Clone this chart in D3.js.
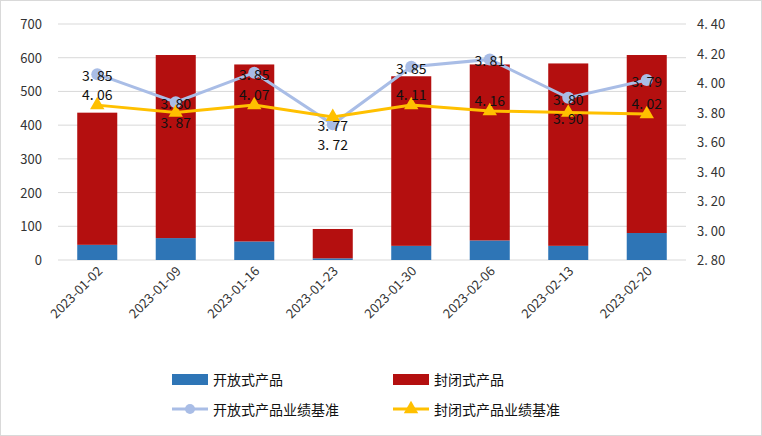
<!DOCTYPE html>
<html><head><meta charset="utf-8">
<script src="https://cdn.jsdelivr.net/npm/d3@7"></script>
<style>body{margin:0;background:#fff}text{font-family:"Noto Sans CJK SC","DejaVu Sans",sans-serif}</style>
</head><body><div id="container"></div>
<script>
let dates = ["2023-01-02","2023-01-09","2023-01-16","2023-01-23","2023-01-30","2023-02-06","2023-02-13","2023-02-20"];
let openAmt = [45, 65, 55, 5, 42, 58, 42, 80];
let closedAmt = [392, 543, 525, 87, 503, 522, 541, 528];
let openRate = [4.06, 3.87, 4.07, 3.72, 4.11, 4.16, 3.90, 4.02];
let closedRate = [3.85, 3.80, 3.85, 3.77, 3.85, 3.81, 3.80, 3.79];
let leftTicks = [0,100,200,300,400,500,600,700];
let rightTicks = [2.8,3.0,3.2,3.4,3.6,3.8,4.0,4.2,4.4];

let w = 762, h = 436;
let svg = d3.select("#container").append("svg").attr("width", w).attr("height", h);
svg.append("rect").attr("x",0.5).attr("y",0.5).attr("width",w-1).attr("height",h-1).attr("fill","none").attr("stroke","#d9d9d9");

let x = d3.scaleBand().domain(dates).range([58, 686]).paddingInner(0.49).paddingOuter(0.245);
let yL = d3.scaleLinear().domain([0,700]).range([260,24]);
let yR = d3.scaleLinear().domain([2.8,4.4]).range([260,24]);

// grid
svg.append("g").selectAll("line").data(leftTicks).enter().append("line")
  .attr("x1",58).attr("x2",686).attr("y1",d=>yL(d)).attr("y2",d=>yL(d))
  .attr("stroke","#d9d9d9");

let fs = "13px";
svg.append("g").selectAll("text").data(leftTicks).enter().append("text")
  .attr("x",42).attr("y",d=>yL(d)+5).attr("text-anchor","end").style("font-size",fs).attr("fill","#333")
  .text(d=>d);
svg.append("g").selectAll("text").data(rightTicks).enter().append("text")
  .attr("x",697).attr("y",d=>yR(d)+5).style("font-size",fs).attr("fill","#333")
  .text(d=>d.toFixed(2).replace(".", ". "));

// bars
let g = svg.append("g");
g.selectAll(".open").data(dates).enter().append("rect")
  .attr("x",d=>x(d)).attr("width",x.bandwidth())
  .attr("y",(d,i)=>yL(openAmt[i])).attr("height",(d,i)=>yL(0)-yL(openAmt[i]))
  .attr("fill","#2e75b6");
g.selectAll(".closed").data(dates).enter().append("rect")
  .attr("x",d=>x(d)).attr("width",x.bandwidth())
  .attr("y",(d,i)=>yL(openAmt[i]+closedAmt[i])).attr("height",(d,i)=>yL(openAmt[i])-yL(openAmt[i]+closedAmt[i]))
  .attr("fill","#b40f0f");

let cx = d => x(d) + x.bandwidth()/2;
// lines
let lineOpen = d3.line().x((d,i)=>cx(dates[i])).y(d=>yR(d));
svg.append("path").datum(openRate).attr("d",lineOpen).attr("fill","none").attr("stroke","#a9bde6").attr("stroke-width",3);
svg.append("path").datum(closedRate).attr("d",lineOpen).attr("fill","none").attr("stroke","#ffc000").attr("stroke-width",3);
svg.append("g").selectAll("circle").data(openRate).enter().append("circle")
  .attr("cx",(d,i)=>cx(dates[i])).attr("cy",d=>yR(d)).attr("r",6).attr("fill","#a9bde6");
let tri = d3.symbol().type(d3.symbolTriangle).size(90);
svg.append("g").selectAll("path").data(closedRate).enter().append("path")
  .attr("d",tri).attr("transform",(d,i)=>"translate("+cx(dates[i])+","+yR(d)+")").attr("fill","#ffc000");

// data labels (as placed in the reference: swapped near the markers)
let lab = svg.append("g").style("font-size","14px").attr("fill","#111").attr("text-anchor","middle");
lab.selectAll(".a").data(closedRate).enter().append("text")
  .attr("x",(d,i)=>cx(dates[i])).attr("y",(d,i)=>yR(openRate[i])+7)
  .text(d=>d.toFixed(2).replace(".", ". "));
lab.selectAll(".b").data(openRate).enter().append("text")
  .attr("x",(d,i)=>cx(dates[i])).attr("y",(d,i)=> openRate[i] > closedRate[i]+0.15 ? yR(closedRate[i])-5 : yR(d)+26)
  .text(d=>d.toFixed(2).replace(".", ". "));

// x labels
svg.append("g").selectAll("text").data(dates).enter().append("text")
  .attr("transform",d=>"translate("+(cx(d)+6)+",272) rotate(-45)")
  .attr("text-anchor","end").style("font-size","13px").attr("fill","#333").text(d=>d);

// legend
let leg = svg.append("g").style("font-size","14px").attr("fill","#111");
leg.append("rect").attr("x",172).attr("y",374).attr("width",36).attr("height",11).attr("fill","#2e75b6");
leg.append("text").attr("x",213).attr("y",385).text("开放式产品");
leg.append("rect").attr("x",393).attr("y",374).attr("width",36).attr("height",11).attr("fill","#b40f0f");
leg.append("text").attr("x",434).attr("y",385).text("封闭式产品");
leg.append("line").attr("x1",172).attr("x2",208).attr("y1",409).attr("y2",409).attr("stroke","#a9bde6").attr("stroke-width",3);
leg.append("circle").attr("cx",190).attr("cy",409).attr("r",5).attr("fill","#a9bde6");
leg.append("text").attr("x",213).attr("y",415).text("开放式产品业绩基准");
leg.append("line").attr("x1",393).attr("x2",429).attr("y1",409).attr("y2",409).attr("stroke","#ffc000").attr("stroke-width",3);
leg.append("path").attr("d",tri).attr("transform","translate(411,409)").attr("fill","#ffc000");
leg.append("text").attr("x",434).attr("y",415).text("封闭式产品业绩基准");
</script></body></html>
